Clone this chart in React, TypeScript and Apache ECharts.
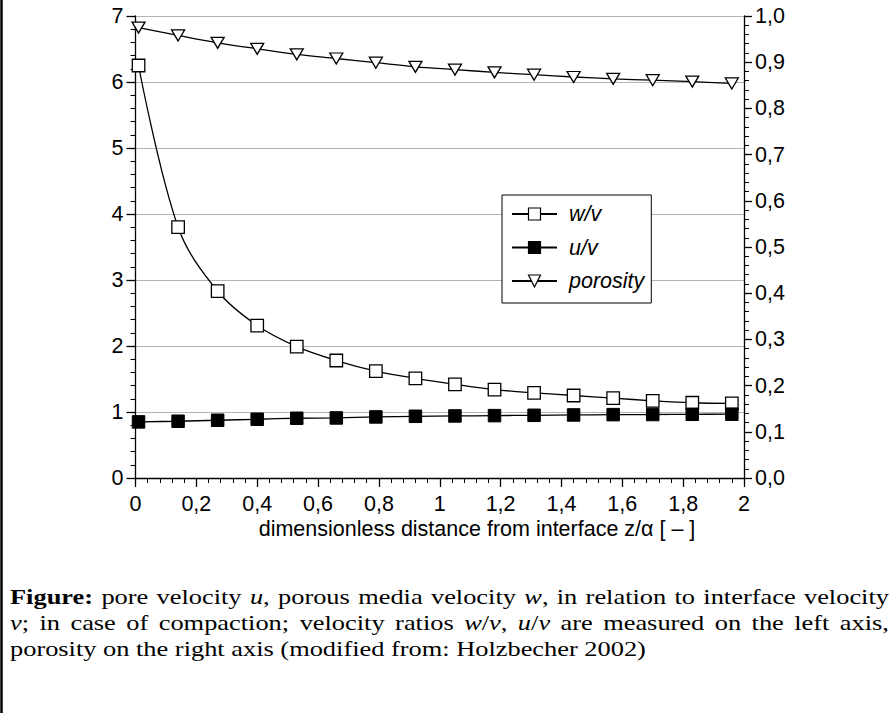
import React, { useEffect, useRef } from "react";
import * as echarts from "echarts";

const xValues = [0.01, 0.14, 0.27, 0.4, 0.53, 0.66, 0.79, 0.92, 1.05, 1.18, 1.31, 1.44, 1.57, 1.7, 1.83, 1.96];
const wvValues = [6.25, 3.8, 2.83, 2.31, 1.99, 1.78, 1.62, 1.51, 1.42, 1.34, 1.29, 1.25, 1.21, 1.17, 1.14, 1.13];
const uvValues = [0.85, 0.86, 0.875, 0.89, 0.905, 0.91, 0.925, 0.935, 0.94, 0.945, 0.95, 0.955, 0.96, 0.962, 0.965, 0.967];
const porosityValues = [0.975, 0.958, 0.942, 0.929, 0.917, 0.908, 0.899, 0.89, 0.884, 0.878, 0.873, 0.868, 0.864, 0.861, 0.858, 0.854];

const seriesNames = ["w/v", "u/v", "porosity"];
const xAxisName = "dimensionless distance from interface z/\u03b1 [ \u2013 ]";
const captionLines = [
  "{b|Figure:} pore velocity {i|u}, porous media velocity {i|w}, in relation to interface velocity",
  "{i|v}; in case of compaction; velocity ratios {i|w}/{i|v}, {i|u}/{i|v} are measured on the left axis,",
  "porosity on the right axis (modified from: Holzbecher 2002)",
];
const captionJustified = [true, true, false];

const SANS = "'Liberation Sans', Arial, sans-serif";
const SERIF = "'Liberation Serif', 'Times New Roman', serif";

const pairs = (ys: number[]) => xValues.map((x, i) => [x, ys[i]]);

type Seg = { kind: string; text: string };
function parseSegs(word: string): Seg[] {
  const out: Seg[] = [];
  const re = /\{(\w)\|([^}]*)\}|([^{]+)/g;
  let m: RegExpExecArray | null;
  while ((m = re.exec(word))) {
    if (m[1]) out.push({ kind: m[1], text: m[2] });
    else out.push({ kind: "n", text: m[3] });
  }
  return out;
}

export default function App() {
  const ref = useRef<HTMLDivElement>(null);
  useEffect(() => {
    if (!ref.current) return;
    const chart = echarts.init(ref.current, undefined, { renderer: "svg" });
    const black = "#000";
    const capSize = 22;
    const capScale = 1.2;
    const capLeft = 10;
    const capRight = 889;
    const labelSize = 21.5;
    const rich = {
      b: { fontWeight: "bold" as const, fontSize: capSize, fontFamily: SERIF, fill: black },
      i: { fontStyle: "italic" as const, fontSize: capSize, fontFamily: SERIF, fill: black },
    };
    const ctx = document.createElement("canvas").getContext("2d")!;
    const fontFor = (k: string) =>
      (k === "b" ? "bold " : k === "i" ? "italic " : "") + `${capSize}px ${SERIF}`;
    const measure = (word: string) =>
      parseSegs(word).reduce((s, seg) => {
        ctx.font = fontFor(seg.kind);
        return s + ctx.measureText(seg.text).width;
      }, 0) * capScale;

    const captionGraphics: any[] = [];
    captionLines.forEach((line, idx) => {
      const y = 596 + idx * 26;
      const base = {
        type: "text",
        y,
        scaleX: capScale,
        style: {
          rich,
          fontSize: capSize,
          fontFamily: SERIF,
          fill: black,
          textAlign: "left",
          textVerticalAlign: "middle",
        },
      };
      if (!captionJustified[idx]) {
        captionGraphics.push({ ...base, x: capLeft, style: { ...base.style, text: line } });
        return;
      }
      const words = line.split(" ");
      const widths = words.map(measure);
      const total = widths.reduce((a, b) => a + b, 0);
      const gap = (capRight - capLeft - total) / (words.length - 1);
      let x = capLeft;
      words.forEach((w, j) => {
        captionGraphics.push({ ...base, x, style: { ...base.style, text: w } });
        x += widths[j] + gap;
      });
    });

    const commonTickLabel = { color: black, fontSize: labelSize, fontFamily: SANS };
    chart.setOption({
      animation: false,
      backgroundColor: "#fff",
      grid: { left: 135.5, right: 148, top: 16, bottom: 235, containLabel: false, outerBoundsMode: "none" },
      legend: {
        data: seriesNames,
        orient: "vertical",
        left: 502,
        top: 195,
        padding: [8, 7, 11, 9],
        itemGap: 11.5,
        itemWidth: 45,
        itemHeight: 15,
        borderColor: black,
        borderWidth: 1,
        backgroundColor: "#fff",
        itemStyle: { borderColor: black, borderWidth: 1.2 },
        textStyle: { color: black, fontSize: labelSize, fontStyle: "italic", fontFamily: SANS, padding: [0, 0, 0, 7] },
      },
      xAxis: {
        type: "value",
        min: 0,
        max: 2,
        interval: 0.2,
        axisLine: { lineStyle: { color: black, width: 1.3 } },
        axisTick: { length: 9, lineStyle: { color: black, width: 1.3 } },
        minorTick: { show: true, splitNumber: 5, length: 5, lineStyle: { color: black, width: 1 } },
        splitLine: { show: false },
        axisLabel: {
          ...commonTickLabel,
          margin: 15,
          formatter: (v: number) => String(Number(v.toFixed(1))).replace(".", ","),
        },
      },
      yAxis: [
        {
          type: "value",
          position: "left",
          min: 0,
          max: 7,
          interval: 1,
          axisLine: { show: true, lineStyle: { color: black, width: 1.3 } },
          axisTick: { show: true, length: 9, lineStyle: { color: black, width: 1.3 } },
          minorTick: { show: true, splitNumber: 5, length: 5, lineStyle: { color: black, width: 1 } },
          splitLine: { show: true, lineStyle: { color: "#b4b4b4", width: 1 } },
          axisLabel: { ...commonTickLabel, margin: 12 },
        },
        {
          type: "value",
          position: "right",
          min: 0,
          max: 1,
          interval: 0.1,
          axisLine: { show: true, lineStyle: { color: black, width: 1.3 } },
          axisTick: { show: true, length: 8, lineStyle: { color: black, width: 1.3 } },
          minorTick: { show: true, splitNumber: 5, length: 5, lineStyle: { color: black, width: 1 } },
          splitLine: { show: false },
          axisLabel: { ...commonTickLabel, margin: 11, formatter: (v: number) => v.toFixed(1).replace(".", ",") },
        },
      ],
      series: [
        {
          name: seriesNames[0],
          type: "line",
          yAxisIndex: 0,
          data: pairs(wvValues),
          smooth: 0.35,
          symbol: "rect",
          symbolSize: 12.5,
          lineStyle: { color: black, width: 1.3 },
          itemStyle: { color: "#fff", borderColor: black, borderWidth: 1.3 },
          z: 3,
        },
        {
          name: seriesNames[1],
          type: "line",
          yAxisIndex: 0,
          data: pairs(uvValues),
          smooth: 0.35,
          symbol: "rect",
          symbolSize: 12.5,
          lineStyle: { color: black, width: 1.3 },
          itemStyle: { color: black, borderColor: black, borderWidth: 1 },
          z: 3,
        },
        {
          name: seriesNames[2],
          type: "line",
          yAxisIndex: 1,
          data: pairs(porosityValues),
          smooth: 0.35,
          symbol: "triangle",
          symbolRotate: 180,
          symbolSize: [13, 11],
          lineStyle: { color: black, width: 1.3 },
          itemStyle: { color: "#fff", borderColor: black, borderWidth: 1.3 },
          z: 3,
        },
      ],
      graphic: [
        { type: "line", shape: { x1: 1.5, y1: 0, x2: 1.5, y2: 713 }, style: { stroke: black, lineWidth: 2.5 } },
        {
          type: "text",
          x: 477,
          y: 529,
          style: { text: xAxisName, fontSize: labelSize, fontFamily: SANS, fill: black, textAlign: "center", textVerticalAlign: "middle" },
        },
        ...captionGraphics,
      ],
    });
    return () => chart.dispose();
  }, []);
  return (
    <div
      ref={ref}
      style={{ position: "fixed", left: 0, top: 0, width: 892, height: 713, background: "#fff" }}
    />
  );
}
